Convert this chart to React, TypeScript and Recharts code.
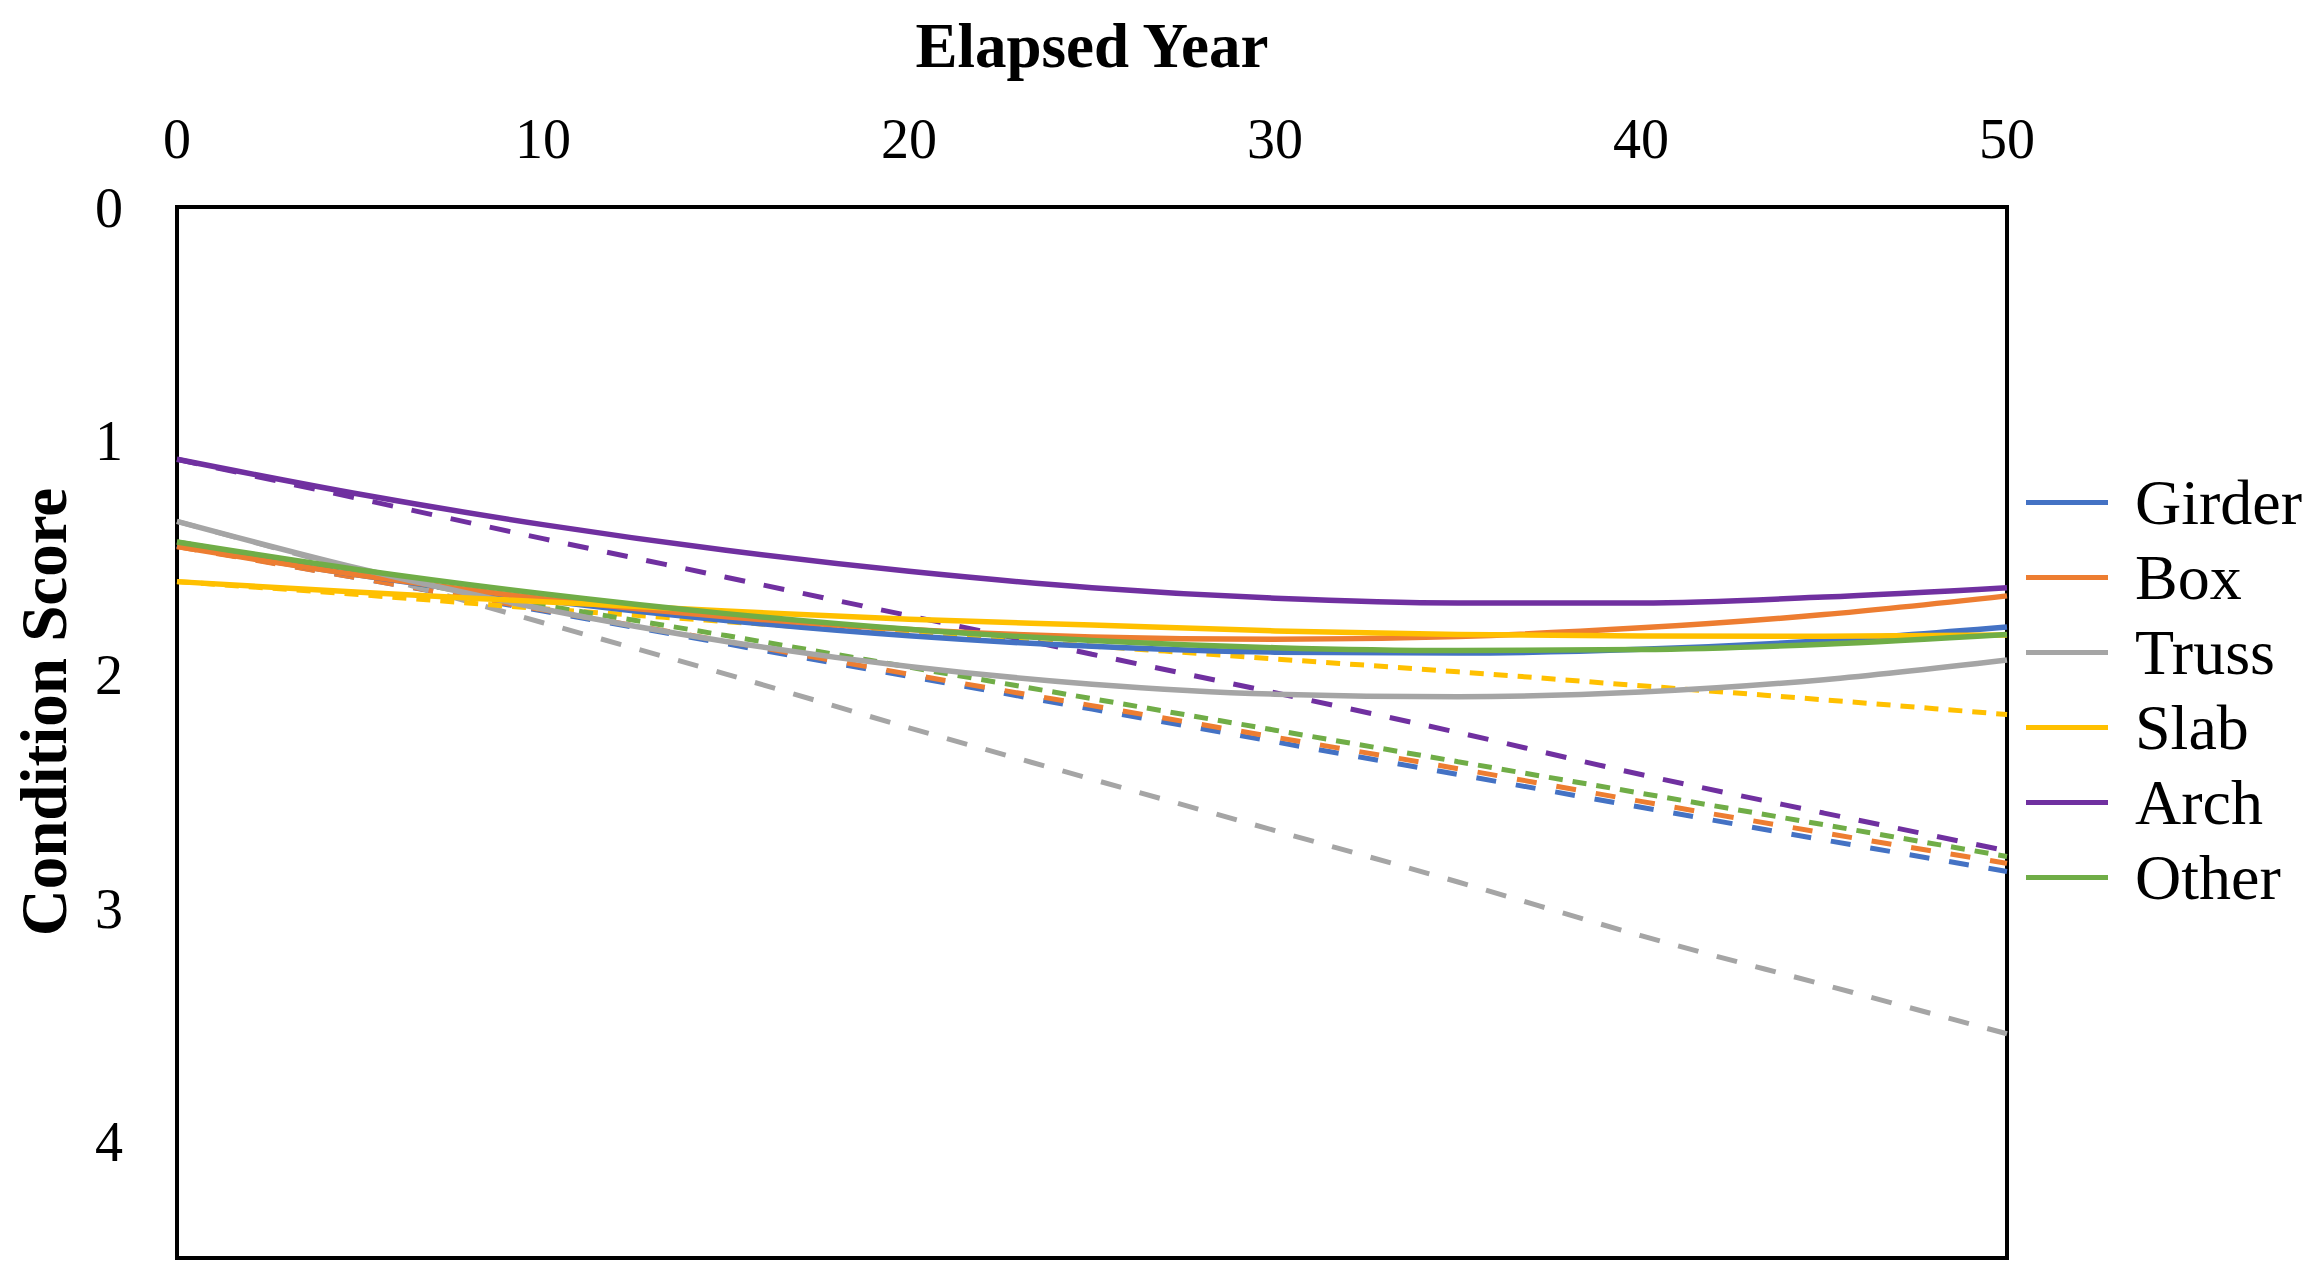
import { LineChart, Line, XAxis, YAxis, ReferenceArea, Legend, Label } from "recharts";

document.body.style.margin = "0";

const FONT = '"Liberation Serif", "Times New Roman", serif';

const YEARS = [0, 5, 10, 15, 20, 25, 30, 35, 40, 45, 50];
const X_TICKS = [0, 10, 20, 30, 40, 50];
const Y_TICKS = [0, 1, 2, 3, 4];

// fitted curves (solid)
const GIRDER = [1.45, 1.577, 1.684, 1.77, 1.836, 1.881, 1.906, 1.91, 1.894, 1.857, 1.798];
const BOX = [1.454, 1.577, 1.677, 1.754, 1.809, 1.841, 1.851, 1.839, 1.802, 1.745, 1.665];
const TRUSS = [1.346, 1.549, 1.721, 1.86, 1.967, 2.043, 2.086, 2.097, 2.077, 2.024, 1.94];
const SLAB = [1.604, 1.65, 1.69, 1.73, 1.765, 1.79, 1.815, 1.83, 1.837, 1.838, 1.833];
const ARCH = [1.08, 1.23, 1.36, 1.47, 1.56, 1.63, 1.675, 1.695, 1.695, 1.67, 1.63];
const OTHER = [1.434, 1.554, 1.656, 1.741, 1.808, 1.856, 1.887, 1.899, 1.895, 1.872, 1.83];

// projections (dashed)
const GIRDER_P = [1.45, 1.59, 1.73, 1.87, 2.01, 2.15, 2.29, 2.43, 2.57, 2.71, 2.845];
const BOX_P = [1.454, 1.59, 1.725, 1.86, 2.0, 2.135, 2.27, 2.405, 2.545, 2.68, 2.81];
const TRUSS_P = [1.346, 1.56, 1.78, 2.0, 2.23, 2.45, 2.67, 2.89, 3.12, 3.33, 3.54];
const SLAB_P = [1.604, 1.66, 1.72, 1.775, 1.83, 1.88, 1.935, 1.99, 2.05, 2.11, 2.173];
const ARCH_P = [1.08, 1.25, 1.42, 1.585, 1.75, 1.915, 2.08, 2.25, 2.43, 2.595, 2.757];
const OTHER_P = [1.434, 1.57, 1.705, 1.835, 1.97, 2.105, 2.24, 2.375, 2.51, 2.645, 2.781];

const SERIES = [
  { key: "girder", name: "Girder", color: "#4472C4", fit: GIRDER, proj: GIRDER_P, dash: "20 20" },
  { key: "box", name: "Box", color: "#ED7D31", fit: BOX, proj: BOX_P, dash: "20 20" },
  { key: "truss", name: "Truss", color: "#A5A5A5", fit: TRUSS, proj: TRUSS_P, dash: "21 19" },
  { key: "slab", name: "Slab", color: "#FFC000", fit: SLAB, proj: SLAB_P, dash: "14 10" },
  { key: "arch", name: "Arch", color: "#7030A0", fit: ARCH, proj: ARCH_P, dash: "21 19" },
  { key: "other", name: "Other", color: "#70AD47", fit: OTHER, proj: OTHER_P, dash: "14 10" },
];

const data = YEARS.map((year, i) => {
  const row: Record<string, number> = { year };
  SERIES.forEach((s) => {
    row[s.key] = s.fit[i];
    row[s.key + "Proj"] = s.proj[i];
  });
  return row;
});

const ORDER = SERIES.map((s) => s.key);

function LegendBox(props: any) {
  const items = (props.payload || [])
    .filter((it: any) => ORDER.includes(String(it.dataKey)))
    .sort((a: any, b: any) => ORDER.indexOf(String(a.dataKey)) - ORDER.indexOf(String(b.dataKey)));
  return (
    <div style={{ fontFamily: FONT, fontSize: 64, color: "#000" }}>
      {items.map((it: any) => (
        <div key={it.value} style={{ display: "flex", alignItems: "center", height: 75, whiteSpace: "nowrap" }}>
          <span style={{ display: "inline-block", width: 82, height: 5, background: it.color }} />
          <span style={{ marginLeft: 27, lineHeight: "75px" }}>{it.value}</span>
        </div>
      ))}
    </div>
  );
}

export default function App() {
  return (
    <div style={{ width: 2319, height: 1269, background: "#fff" }}>
      <LineChart
        width={2319}
        height={1269}
        data={data}
        margin={{ top: 107, right: 312, bottom: 11, left: 0 }}
      >
        <XAxis
          dataKey="year"
          type="number"
          orientation="top"
          domain={[0, 50]}
          ticks={X_TICKS}
          height={100}
          axisLine={false}
          tickLine={false}
          tickSize={0}
          tickMargin={49}
          tick={{ fill: "#000", fontSize: 56, fontFamily: FONT }}
        >
          <Label
            content={() => (
              <text x={1092} y={67} textAnchor="middle" fontFamily={FONT} fontWeight="bold" fontSize={63} fill="#000">
                Elapsed Year
              </text>
            )}
          />
        </XAxis>
        <YAxis
          type="number"
          reversed
          domain={[0, 4.5]}
          ticks={Y_TICKS}
          width={177}
          axisLine={false}
          tickLine={false}
          tickSize={0}
          tickMargin={54}
          tick={{ fill: "#000", fontSize: 56, fontFamily: FONT }}
        >
          <Label
            content={() => (
              <text
                x={44}
                y={712}
                transform="rotate(-90 44 712)"
                textAnchor="middle"
                dominantBaseline="central"
                fontFamily={FONT}
                fontWeight="bold"
                fontSize={65}
                fill="#000"
              >
                Condition Score
              </text>
            )}
          />
        </YAxis>
        <ReferenceArea x1={0} x2={50} y1={0} y2={4.5} fill="none" stroke="#000" strokeWidth={4} ifOverflow="visible" />
        {SERIES.map((s) => (
          <Line
            key={s.key + "Proj"}
            dataKey={s.key + "Proj"}
            name={s.name + " projection"}
            type="monotone"
            stroke={s.color}
            strokeWidth={5}
            strokeDasharray={s.dash}
            dot={false}
            legendType="none"
            isAnimationActive={false}
          />
        ))}
        {SERIES.map((s) => (
          <Line
            key={s.key}
            dataKey={s.key}
            name={s.name}
            type="monotone"
            stroke={s.color}
            strokeWidth={5.5}
            dot={false}
            isAnimationActive={false}
          />
        ))}
        <Legend
          layout="horizontal"
          align="center"
          verticalAlign="middle"
          content={<LegendBox />}
          wrapperStyle={{ left: 2026, top: 465, width: 293, height: 460 }}
        />
      </LineChart>
    </div>
  );
}
